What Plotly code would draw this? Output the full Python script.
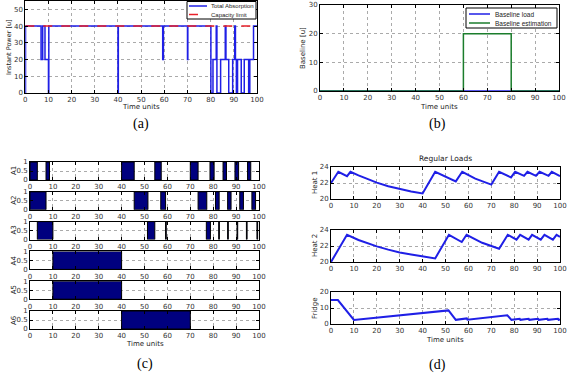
import plotly.graph_objects as go

W, H = 570, 374

# ---------------- data ----------------
# (a) total absorption (step data) and capacity
abs_t = [0, 0.1, 6.8, 7.5, 8.5, 10, 10.15, 40, 40.15, 59.3, 59.6, 70, 70.15, 80.1, 81, 82.4, 82.7,
         84.3, 86.3, 86.6, 87.8, 89.5, 90.4, 90.7, 91.1, 91.6, 93.2, 94.5, 96.4, 96.9, 98.5, 100]
abs_v = [0, 40, 20, 40, 20, 0, 40, 0, 40, 20, 40, 20, 40, 0, 20, 40, 0,
         20, 40, 20, 0, 20, 40, 20, 0, 20, 0, 20, 0, 20, 40, 40]
cap_t = [0, 100]
cap_v = [40, 40]

# (b) baseline
base_t = [0, 60, 80, 100]
base_load_v = [0, 0, 0, 0]
base_est_v = [0, 20, 0, 0]

# (c) appliance on-intervals
a1_start = [0, 7, 40, 54.5, 70, 78.6, 84.3, 89.5, 95]
a1_end = [3.2, 8.5, 45.5, 57.3, 73.4, 80.4, 85.8, 91.1, 96.4]
a2_start = [0, 45.5, 57.1, 73.4, 81, 86.3, 91.6, 96.9]
a2_end = [7, 51.5, 59.2, 77.2, 82.6, 87.8, 93.2, 98.5]
a3_start = [3.2, 51.3, 59.2, 77, 82.4, 86.3, 90.4, 94.5, 99.1]
a3_end = [10, 54.5, 59.5, 78.8, 82.7, 86.6, 90.7, 94.8, 99.4]
a4_start, a4_end = [10], [40]
a5_start, a5_end = [10], [40]
a6_start, a6_end = [40], [70]
devices = [("A1", a1_start, a1_end), ("A2", a2_start, a2_end), ("A3", a3_start, a3_end),
           ("A4", a4_start, a4_end), ("A5", a5_start, a5_end), ("A6", a6_start, a6_end)]

# (d) regular loads
heat1_t = [0, 3.2, 7, 8.5, 12, 16, 20, 25, 30, 35, 40, 45.5, 54.5, 57.3, 63, 70, 73.4, 78.6, 80.4,
           84.3, 85.8, 89.5, 91.1, 95, 96.4, 100]
heat1_v = [22.0, 23.4, 22.85, 23.4, 22.95, 22.45, 22.05, 21.6, 21.25, 20.95, 20.7, 23.4, 22.2, 23.4,
           22.55, 21.8, 23.4, 22.7, 23.4, 22.9, 23.4, 22.9, 23.4, 22.9, 23.4, 22.85]
heat2_t = [0, 7, 12, 16, 20, 25, 30, 35, 40, 45.5, 51.5, 57.1, 59.2, 66, 73.4, 77.2, 81, 82.6,
           86.3, 87.8, 91.6, 93.2, 96.9, 98.5, 100]
heat2_v = [20.0, 23.4, 22.75, 22.3, 21.95, 21.55, 21.2, 20.95, 20.7, 20.45, 23.4, 22.5, 23.4, 22.4,
           21.65, 23.4, 22.8, 23.4, 22.8, 23.4, 22.8, 23.4, 22.8, 23.4, 23.15]
fridge_t = [0, 3, 10, 51.3, 54.5, 57, 59.3, 59.6, 77, 78.8, 82.4, 82.7, 86.3, 86.6, 90.4, 90.7,
            94.5, 94.8, 99.1, 99.4, 100]
fridge_v = [15, 15, 2.5, 8.5, 2.6, 3.2, 3.5, 2.7, 5.4, 2.6, 3.3, 2.6, 3.3, 2.6, 3.3, 2.6,
            3.3, 2.6, 3.3, 2.6, 2.8]

time_ticks = list(range(0, 101, 10))

# ---------------- layout geometry (pixels) ----------------
strip_tops = [162, 191.8, 221.6, 251.4, 281.2, 311]
panels = [
    dict(x=(25.3, 257), y=(1, 93), yr=[0, 55], yt=[0, 10, 20, 30, 40, 50]),      # a
    dict(x=(320, 559), y=(5, 91), yr=[0, 30], yt=[0, 10, 20, 30]),               # b
]
for t in strip_tops:
    panels.append(dict(x=(30, 259), y=(t, t + 18), yr=[0, 1], yt=[0, 0.5, 1]))
panels += [
    dict(x=(331, 560), y=(167, 199), yr=[20, 24], yt=[20, 22, 24]),
    dict(x=(331, 560), y=(230, 262), yr=[20, 24], yt=[20, 22, 24]),
    dict(x=(331, 560), y=(292, 324), yr=[0, 20], yt=[0, 10, 20]),
]

BLUE = '#1f1fe6'
RED = '#e8202a'
GREEN = '#1b7d2c'
NAVY = '#00007f'
TICKFONT = dict(size=7, color='#333333', family='DejaVu Sans')

fig = go.Figure()

def ax(i):
    return ('x' if i == 1 else f'x{i}'), ('y' if i == 1 else f'y{i}')

# (a)
xa, ya = ax(1)
fig.add_trace(go.Scatter(x=abs_t, y=abs_v, mode='lines', line=dict(color=BLUE, width=1.5, shape='hv'),
                         name='Total Absorption', xaxis=xa, yaxis=ya, showlegend=False))
fig.add_trace(go.Scatter(x=cap_t, y=cap_v, mode='lines', line=dict(color=RED, width=1.5, dash='dash'),
                         name='Capacity limit', xaxis=xa, yaxis=ya, showlegend=False))
# (b)
xb, yb = ax(2)
fig.add_trace(go.Scatter(x=base_t, y=base_load_v, mode='lines', line=dict(color=BLUE, width=1.5, shape='hv'),
                         name='Baseline load', xaxis=xb, yaxis=yb, showlegend=False))
fig.add_trace(go.Scatter(x=base_t, y=base_est_v, mode='lines', line=dict(color=GREEN, width=1.5, shape='hv'),
                         name='Baseline estimation', xaxis=xb, yaxis=yb, showlegend=False))
# (c)
for k, (name, s, e) in enumerate(devices):
    xi, yi = ax(3 + k)
    fig.add_trace(go.Bar(x=[(a + b) / 2 for a, b in zip(s, e)], y=[1] * len(s),
                         width=[b - a for a, b in zip(s, e)], marker=dict(color=NAVY, line=dict(color='black', width=1)),
                         showlegend=False, xaxis=xi, yaxis=yi))
# (d)
for k, (tt, vv) in enumerate([(heat1_t, heat1_v), (heat2_t, heat2_v), (fridge_t, fridge_v)]):
    xi, yi = ax(9 + k)
    fig.add_trace(go.Scatter(x=tt, y=vv, mode='lines', line=dict(color=BLUE, width=2),
                             showlegend=False, xaxis=xi, yaxis=yi))

layout = dict(width=W, height=H, margin=dict(l=0, r=0, t=0, b=0), paper_bgcolor='white',
              plot_bgcolor='white', barmode='overlay', showlegend=False)
for i, p in enumerate(panels, start=1):
    sfx = '' if i == 1 else str(i)
    common = dict(showline=True, linecolor='black', linewidth=1, mirror='ticks', ticks='inside',
                  ticklen=3, tickcolor='black', showgrid=True, gridcolor='#aaaaaa', griddash='dot',
                  gridwidth=1, zeroline=False, tickfont=TICKFONT, fixedrange=True, automargin=False)
    layout['xaxis' + sfx] = dict(common, domain=[p['x'][0] / W, p['x'][1] / W], range=[0, 100],
                                 tickvals=time_ticks, anchor='y' + sfx)
    layout['yaxis' + sfx] = dict(common, domain=[1 - p['y'][1] / H, 1 - p['y'][0] / H], range=p['yr'],
                                 tickvals=p['yt'], anchor='x' + sfx)
fig.update_layout(**layout)

ann = []
shapes = []
def text(x, y, s, size=7, angle=0, family='DejaVu Sans', color='#222222', xanchor='center'):
    ann.append(dict(x=x / W, y=1 - y / H, xref='paper', yref='paper', text=s, showarrow=False,
                    font=dict(size=size, family=family, color=color), textangle=angle,
                    xanchor=xanchor, yanchor='middle'))

def px_line(x0, x1, y, color, dash='solid', width=1.5):
    shapes.append(dict(type='line', xref='paper', yref='paper', x0=x0 / W, x1=x1 / W,
                       y0=1 - y / H, y1=1 - y / H, line=dict(color=color, width=width, dash=dash),
                       layer='above'))

def px_box(x0, y0, x1, y1):
    shapes.append(dict(type='rect', xref='paper', yref='paper', x0=x0 / W, x1=x1 / W,
                       y0=1 - y1 / H, y1=1 - y0 / H, line=dict(color='black', width=1),
                       fillcolor='white', layer='above'))

# legend (a)
px_box(187, 1.5, 256, 19)
px_line(189, 207, 6, BLUE)
px_line(189, 207, 14.5, RED, dash='dash')
text(209, 6, 'Total Absorption', size=6, family='Liberation Sans', xanchor='left')
text(209, 14.5, 'Capacity limit', size=6, family='Liberation Sans', xanchor='left')
# legend (b)
px_box(466, 8, 557, 28)
px_line(469, 490, 14, BLUE)
px_line(469, 490, 23, GREEN)
text(493, 14, 'Baseline load', size=6.5, family='Liberation Sans', xanchor='left')
text(493, 23, 'Baseline estimation', size=6.5, family='Liberation Sans', xanchor='left')

text(141, 107.5, 'Time units')
text(439, 107.5, 'Time units')
text(145, 344, 'Time units')
text(445, 339.5, 'Time units')
text(445, 159, 'Regular Loads', size=7.5)
text(9, 47, 'Instant Power [u]', size=6.5, angle=-90)
text(303, 48, 'Baseline [u]', angle=-90)
for k, (name, s, e) in enumerate(devices):
    text(14, strip_tops[k] + 9, name, angle=-90)
text(315, 183, 'Heat 1', angle=-90)
text(315, 246, 'Heat 2', angle=-90)
text(315, 308, 'Fridge', angle=-90)
for (x, y, s) in [(141, 124, '(a)'), (437, 124, '(b)'), (145, 364, '(c)'), (437, 365, '(d)')]:
    text(x, y, s, size=14, family='Liberation Serif', color='black')
fig.update_layout(annotations=ann, shapes=shapes)

fig.write_html('out.html')
